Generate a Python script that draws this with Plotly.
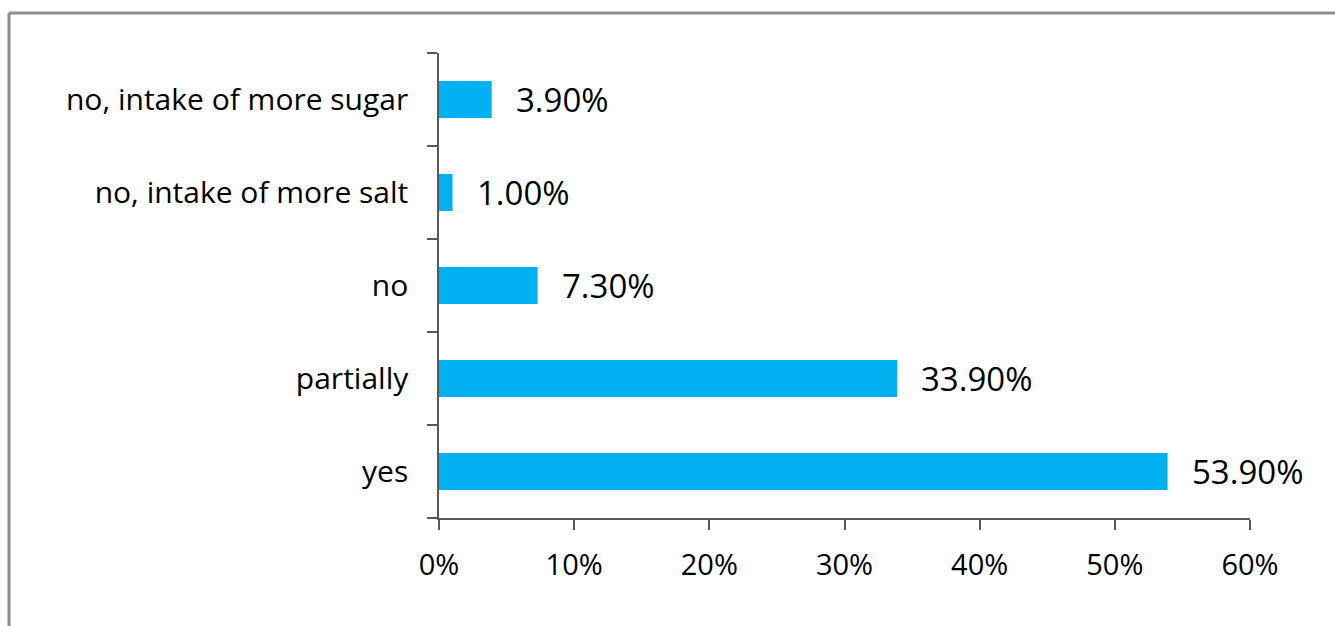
import plotly.graph_objects as go

categories = ["yes", "partially", "no", "no, intake of more salt", "no, intake of more sugar"]
shares = [53.9, 33.9, 7.3, 1.0, 3.9]
x_ticks = [0, 10, 20, 30, 40, 50, 60]
x_tick_labels = ["0%", "10%", "20%", "30%", "40%", "50%", "60%"]

W, H = 1335, 626
ML, MR, MT, MB = 439, 85, 53, 108
pw, ph = W - ML - MR, H - MT - MB

FONT = "Open Sans"
axis_color = "#595959"

fig = go.Figure(
    go.Bar(
        x=shares,
        y=categories,
        orientation="h",
        marker=dict(color="#00B0F0", line=dict(width=0)),
        width=0.4,
        hoverinfo="skip",
    )
)

# value labels to the right of each bar
for cat, v in zip(categories, shares):
    fig.add_annotation(
        x=v, y=cat, xref="x", yref="y",
        text=f"{v:.2f}%", showarrow=False,
        xanchor="left", yanchor="middle", xshift=22,
        font=dict(family=FONT, size=33, color="#000000"),
    )

# outer frame
def px_to_paper_x(px):
    return (px - ML) / pw

def px_to_paper_y(py):
    return 1 - (py - MT) / ph

fig.add_shape(type="line", xref="paper", yref="paper",
              x0=px_to_paper_x(9), x1=px_to_paper_x(W + 10),
              y0=px_to_paper_y(13), y1=px_to_paper_y(13),
              line=dict(color="#8C8C8C", width=3))
fig.add_shape(type="line", xref="paper", yref="paper",
              x0=px_to_paper_x(9), x1=px_to_paper_x(9),
              y0=px_to_paper_y(13), y1=px_to_paper_y(H + 10),
              line=dict(color="#8C8C8C", width=3))

fig.update_layout(
    width=W, height=H,
    margin=dict(l=ML, r=MR, t=MT, b=MB, pad=0),
    paper_bgcolor="white", plot_bgcolor="white",
    showlegend=False,
    font=dict(family=FONT, size=29, color="#000000"),
    xaxis=dict(
        range=[0, 60], tickvals=x_ticks, ticktext=x_tick_labels,
        showgrid=False, zeroline=False,
        showline=True, linecolor=axis_color, linewidth=1.5,
        ticks="outside", ticklen=10, tickcolor=axis_color, tickwidth=1.5,
        ticklabelstandoff=10,
    ),
    yaxis=dict(
        categoryorder="array", categoryarray=categories,
        showgrid=False, zeroline=False,
        showline=True, linecolor=axis_color, linewidth=1.5,
        ticks="outside", ticklen=10, tickcolor=axis_color, tickwidth=1.5,
        tickson="boundaries", ticklabelstandoff=23,
        tickfont=dict(family=FONT, size=30, color="#000000"),
    ),
)

fig.write_html("out.html")
